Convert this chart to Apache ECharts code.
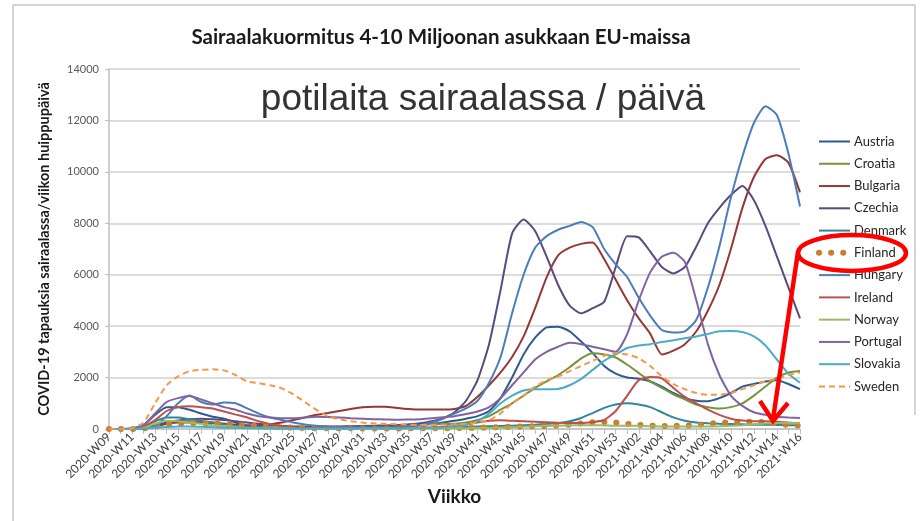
<!DOCTYPE html>
<html>
<head>
<meta charset="utf-8">
<script src="https://cdn.jsdelivr.net/npm/echarts@6/dist/echarts.min.js"></script>
<style>
  html, body { margin: 0; padding: 0; background: #fff; }
  #main { width: 922px; height: 521px; }
</style>
</head>
<body>
<div id="main"></div>
<script>
// viikot 2020-W09 ... 2021-W16
var weeks = [
  '2020-W09', '2020-W10', '2020-W11', '2020-W12', '2020-W13', '2020-W14', '2020-W15', '2020-W16',
  '2020-W17', '2020-W18', '2020-W19', '2020-W20', '2020-W21', '2020-W22', '2020-W23', '2020-W24',
  '2020-W25', '2020-W26', '2020-W27', '2020-W28', '2020-W29', '2020-W30', '2020-W31', '2020-W32',
  '2020-W33', '2020-W34', '2020-W35', '2020-W36', '2020-W37', '2020-W38', '2020-W39', '2020-W40',
  '2020-W41', '2020-W42', '2020-W43', '2020-W44', '2020-W45', '2020-W46', '2020-W47', '2020-W48',
  '2020-W49', '2020-W50', '2020-W51', '2020-W52', '2020-W53', '2021-W01', '2021-W02', '2021-W03',
  '2021-W04', '2021-W05', '2021-W06', '2021-W07', '2021-W08', '2021-W09', '2021-W10', '2021-W11',
  '2021-W12', '2021-W13', '2021-W14', '2021-W15', '2021-W16'
]

var yTicks = [0, 2000, 4000, 6000, 8000, 10000, 12000, 14000]

var austria = [0, 0, 10, 150, 550, 850, 850, 750, 600, 480,
  400, 250, 120, 80, 60, 50, 50, 50, 50, 50,
  50, 50, 60, 60, 70, 90, 110, 150, 200, 250,
  320, 400, 500, 700, 1200, 2000, 2900, 3550, 3950, 3980,
  3800, 3400, 2950, 2450, 2150, 2000, 1950, 1850, 1650, 1400,
  1200, 1100, 1080, 1200, 1400, 1650, 1750, 1850, 1900, 1750, 1550]
var croatia = [0, 0, 0, 20, 100, 200, 280, 300, 280, 250,
  200, 150, 100, 80, 60, 50, 50, 50, 60, 70,
  80, 100, 120, 130, 140, 150, 160, 170, 180, 190,
  200, 250, 350, 500, 750, 1000, 1300, 1600, 1850, 2100,
  2400, 2750, 2950, 2900, 2780, 2500, 2180, 1850, 1600, 1350,
  1150, 950, 850, 800, 850, 1000, 1300, 1650, 2000, 2200, 2260]
var bulgaria = [0, 0, 0, 0, 100, 200, 250, 250, 250, 220,
  200, 170, 150, 150, 180, 250, 350, 450, 550, 620,
  700, 780, 850, 870, 870, 820, 780, 760, 760, 760,
  780, 900, 1250, 1700, 2200, 2800, 3600, 4700, 5900, 6750,
  7050, 7200, 7250, 6600, 5800, 5000, 4300, 3700, 2900, 3050,
  3300, 3800, 4600, 5600, 7000, 8600, 9800, 10500, 10650, 10350, 9200]
var czechia = [0, 0, 10, 50, 150, 250, 330, 380, 400, 380,
  350, 300, 250, 200, 160, 130, 110, 100, 100, 100,
  100, 110, 110, 120, 130, 150, 180, 220, 300, 420,
  650, 1100, 1900, 3300, 5400, 7600, 8150, 7700, 6700, 5600,
  4800, 4500, 4700, 4950, 6300, 7500, 7450, 6900, 6300, 6050,
  6300, 7100, 8000, 8600, 9100, 9450, 8900, 7900, 6700, 5500, 4300]
var denmark = [0, 0, 10, 80, 300, 450, 450, 380, 320, 250,
  180, 120, 90, 70, 50, 40, 30, 30, 25, 20,
  20, 20, 25, 30, 30, 30, 35, 40, 50, 60,
  70, 80, 100, 110, 120, 130, 150, 170, 200, 230,
  300, 430, 620, 820, 950, 1000, 950, 850, 650, 450,
  320, 250, 220, 200, 190, 180, 170, 170, 160, 150, 150]
var finland = [0, 0, 0, 20, 100, 170, 210, 230, 230, 220,
  200, 170, 140, 110, 90, 70, 50, 40, 30, 30,
  25, 25, 20, 20, 20, 20, 25, 25, 30, 30,
  35, 40, 50, 60, 80, 90, 100, 110, 120, 140,
  170, 220, 260, 270, 250, 200, 160, 130, 120, 120,
  130, 150, 200, 240, 260, 280, 280, 260, 220, 150, 140]
var hungary = [0, 0, 0, 20, 100, 500, 1000, 1300, 1050, 950,
  1030, 1000, 800, 600, 450, 350, 250, 180, 130, 100,
  80, 70, 60, 60, 60, 70, 100, 150, 250, 400,
  600, 800, 1100, 1800, 2800, 4500, 6000, 7050, 7500, 7750,
  7900, 8050, 7850, 7000, 6400, 5900, 5100, 4400, 3850, 3750,
  3800, 4250, 5500, 7100, 9000, 10600, 11900, 12550, 12200, 10700, 8650]
var ireland = [0, 0, 30, 100, 350, 700, 850, 880, 850, 800,
  680, 560, 450, 300, 190, 120, 60, 40, 30, 25,
  20, 20, 20, 20, 25, 30, 40, 50, 60, 80,
  120, 180, 250, 320, 340, 320, 300, 280, 260, 240,
  230, 230, 270, 350, 700, 1300, 1900, 2020, 1970, 1600,
  1250, 1000, 750, 550, 400, 330, 300, 300, 280, 250, 220]
var norway = [0, 0, 10, 50, 200, 320, 300, 250, 200, 150,
  110, 80, 50, 35, 25, 20, 15, 10, 10, 10,
  10, 10, 10, 10, 10, 10, 15, 15, 20, 20,
  25, 30, 35, 40, 50, 70, 90, 110, 120, 130,
  140, 150, 150, 140, 130, 130, 120, 110, 100, 100,
  100, 100, 100, 110, 130, 150, 180, 210, 230, 240, 220]
var portugal = [0, 0, 20, 150, 600, 1050, 1200, 1280, 1150, 1000,
  850, 750, 600, 500, 450, 420, 420, 450, 480, 470,
  450, 420, 400, 380, 370, 360, 370, 380, 420, 460,
  500, 580, 680, 850, 1200, 1700, 2200, 2700, 3000, 3200,
  3350, 3300, 3200, 3100, 3000, 3700, 5000, 6100, 6700, 6850,
  6500, 5000, 3300, 2100, 1300, 900, 650, 550, 480, 450, 430]
var slovakia = [0, 0, 0, 20, 50, 80, 100, 100, 90, 70,
  50, 40, 30, 20, 15, 10, 10, 10, 10, 10,
  10, 10, 15, 15, 20, 20, 25, 30, 40, 60,
  100, 150, 300, 600, 1000, 1300, 1500, 1550, 1550, 1560,
  1700, 1950, 2300, 2650, 2900, 3150, 3250, 3300, 3380, 3450,
  3530, 3600, 3700, 3800, 3810, 3770, 3600, 3250, 2700, 2150, 1800]
var sweden = [0, 0, 30, 250, 1000, 1700, 2050, 2250, 2300, 2320,
  2280, 2100, 1850, 1780, 1700, 1580, 1350, 1050, 750, 500,
  380, 300, 250, 220, 200, 180, 170, 160, 160, 170,
  180, 200, 260, 350, 600, 1000, 1300, 1650, 1900, 2050,
  2250, 2450, 2650, 2850, 2950, 2900, 2750, 2450, 2050, 1750,
  1550, 1400, 1330, 1330, 1400, 1550, 1700, 1850, 1950, 2100, 2200]

var countries = ['Austria', 'Croatia', 'Bulgaria', 'Czechia', 'Denmark', 'Finland',
  'Hungary', 'Ireland', 'Norway', 'Portugal', 'Slovakia', 'Sweden']
var values = [austria, croatia, bulgaria, czechia, denmark, finland,
  hungary, ireland, norway, portugal, slovakia, sweden]
var colors = ['#2f5b8e', '#77933c', '#953735', '#5a4a7e', '#31859c', '#c87f35',
  '#4a7ebb', '#c0504d', '#9bbb59', '#8064a2', '#4bacc6', '#f79646']

var chart = echarts.init(document.getElementById('main'))

function makeSeries() {
  var arr = []
  countries.forEach(function(name, i) {
    var ls = { width: 2, color: colors[i] }
    if (name === 'Finland') {
      // pisteviiva
      ls = { width: 6, color: colors[i], type: [0.1, 12], cap: 'round' }
    }
    if (name === 'Sweden') {
      ls = { width: 2, color: colors[i], type: [6, 4] }
    }
    arr.push({
      name: name,
      type: 'line',
      data: values[i],
      symbol: 'none',
      smooth: 0.2,
      color: colors[i],
      lineStyle: ls,
      emphasis: { disabled: true }
    })
  })
  return arr
}

var font = 'Lato, "Liberation Sans", sans-serif'

var option = {
  animation: false,
  backgroundColor: '#ffffff',
  grid: {
    left: 109,
    right: 122,
    top: 69,
    bottom: 92,
    containLabel: false,
    outerBoundsMode: 'none'
  },
  legend: {
    data: countries,
    orient: 'vertical',
    left: 811,
    top: 130,
    itemWidth: 31,
    itemHeight: 12,
    itemGap: 9.27,
    selectedMode: false,
    itemStyle: { opacity: 0 },
    lineStyle: { width: 'inherit' },
    textStyle: { fontFamily: font, fontSize: 13, color: '#262626', padding: [0, 0, 0, -1] }
  },
  xAxis: {
    type: 'category',
    data: weeks,
    boundaryGap: false,
    name: 'Viikko',
    nameLocation: 'middle',
    nameGap: 58,
    nameTextStyle: { fontFamily: font, fontSize: 19, fontWeight: 'bold', color: '#1a1a1a' },
    axisLine: { show: true, lineStyle: { color: '#bfbfbf', width: 1.5 } },
    axisTick: { show: true, interval: 0, length: 5, lineStyle: { color: '#bfbfbf' } },
    axisLabel: {
      interval: 1,
      rotate: 45,
      margin: 6,
      fontFamily: font,
      fontSize: 12,
      color: '#404040'
    },
    splitLine: { show: false }
  },
  yAxis: {
    type: 'value',
    min: yTicks[0],
    max: yTicks[yTicks.length - 1],
    interval: 2000,
    name: 'COVID-19 tapauksia sairaalassa/viikon huippupäivä',
    nameLocation: 'middle',
    nameGap: 57,
    nameTextStyle: { fontFamily: font, fontSize: 14.5, fontWeight: 'bold', color: '#1a1a1a' },
    axisLine: { show: true, lineStyle: { color: '#bfbfbf', width: 1.5 } },
    axisTick: { show: true, length: 4, lineStyle: { color: '#bfbfbf' } },
    axisLabel: {
      fontFamily: font, fontSize: 11, color: '#595959', margin: 10,
      formatter: function(v) { return String(v) }
    },
    splitLine: { show: true, lineStyle: { color: '#d0d0d0', width: 1.5 } }
  },
  graphic: [
    // kehys
    { type: 'polyline', shape: { points: [[13, 521], [13, 5], [915, 5], [915, 415]] },
      style: { stroke: '#c8c8c8', lineWidth: 1.5, fill: null }, silent: true },
    { type: 'text', x: 441, y: 37,
      style: { text: 'Sairaalakuormitus 4-10 Miljoonan asukkaan EU-maissa',
        font: 'bold 20.5px ' + font, fill: '#1a1a1a', align: 'center', verticalAlign: 'middle',
        textAlign: 'center', textVerticalAlign: 'middle' } },
    { type: 'text', x: 483, y: 100, z: 10,
      style: { text: 'potilaita sairaalassa / päivä',
        font: '37px "Liberation Sans", Arial, sans-serif', fill: '#333333',
        align: 'center', verticalAlign: 'middle', textAlign: 'center', textVerticalAlign: 'middle' } },
    // punainen merkintä
    { type: 'ellipse', z: 20, shape: { cx: 852, cy: 253, rx: 54, ry: 18 },
      style: { stroke: '#ff0000', lineWidth: 4.5, fill: null } },
    { type: 'polyline', z: 20, shape: { points: [[798, 252], [773, 419]] },
      style: { stroke: '#ff0000', lineWidth: 4.5, fill: null } },
    { type: 'polyline', z: 20, shape: { points: [[760, 401], [773, 421], [788, 403]] },
      style: { stroke: '#ff0000', lineWidth: 4.5, fill: null, lineJoin: 'miter' } }
  ],
  series: makeSeries()
}

chart.setOption(option)
</script>
</body>
</html>
